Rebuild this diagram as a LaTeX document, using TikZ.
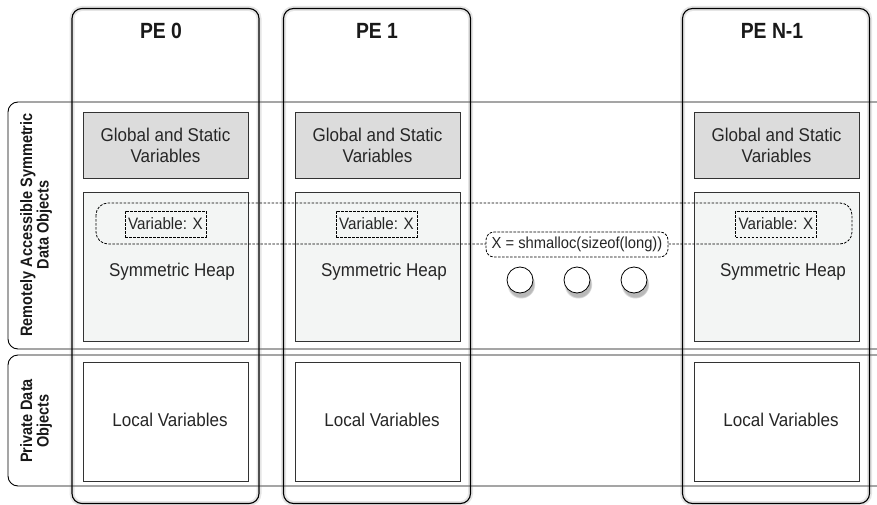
\documentclass[tikz,border=0pt]{standalone}
\usepackage{fontspec}
\setmainfont{Liberation Sans}[FakeStretch=0.92]
\newfontfamily\titlefont{Liberation Sans}[FakeStretch=0.88]
\usetikzlibrary{shadows}
\definecolor{txt}{HTML}{262626}
\definecolor{globfill}{HTML}{DCDCDC}
\definecolor{heapfill}{HTML}{F3F5F4}
\definecolor{boxline}{HTML}{333333}
\tikzset{
  pecol/.style={draw=black, line width=1.1pt, rounded corners=10pt, minimum width=187pt, minimum height=495pt, inner sep=0pt},
  peshadow/.style={draw=gray, line width=5pt, opacity=0.2, rounded corners=10pt, minimum width=187pt, minimum height=495pt, inner sep=0pt},
  petitle/.style={font=\titlefont\bfseries\fontsize{22}{24}\selectfont, text=black!90},
  band/.style={draw=black, line width=0.9pt, rounded corners=10pt, inner sep=0pt},
  bandlabel/.style={rotate=90, align=center, font=\titlefont\bfseries\fontsize{16.5}{16.5}\selectfont, text=black!90},
  globbox/.style={draw=boxline, line width=0.8pt, fill=globfill, minimum width=165pt, minimum height=66pt, inner sep=0pt, align=center, font=\fontsize{18.5}{21}\selectfont, text=txt},
  heapbox/.style={draw=boxline, line width=0.8pt, fill=heapfill, minimum width=165pt, minimum height=149pt, inner sep=0pt},
  localbox/.style={draw=boxline, line width=0.8pt, fill=white, minimum width=165pt, minimum height=119pt, inner sep=0pt},
  bodytext/.style={font=\fontsize{18.5}{21}\selectfont, text=txt, inner sep=0pt},
  dashline/.style={draw=black, dash pattern=on 2.6pt off 1.4pt, line width=0.8pt},
  varbox/.style={dashline, minimum width=81pt, minimum height=26pt, inner sep=0pt, font=\fontsize{16.5}{18}\selectfont, text=txt},
  allocbox/.style={dashline, fill=white, rounded corners=8pt, minimum width=182pt, minimum height=25pt, inner sep=0pt, font=\fontsize{16}{18}\selectfont, text=txt},
  dot/.style={circle, draw=black, line width=0.8pt, fill=white, minimum size=26pt, inner sep=0pt, circular drop shadow={shadow xshift=1pt, shadow yshift=-4pt, opacity=0.55}},
}
\begin{document}
\begin{tikzpicture}[x=1pt,y=-1pt]
\useasboundingbox[fill=white] (0,0) rectangle (877,505);

% bands
\node[band, minimum width=900pt, minimum height=247pt] (remote) at (458,225.5) {};
\node[band, minimum width=900pt, minimum height=131pt] (private) at (458,420.5) {};
\node[bandlabel] (remlabel) at (36,225) {Remotely Accessible Symmetric\\Data Objects};
\node[bandlabel] (privlabel) at (36,421) {Private Data\\Objects};

% PE columns (shadow + outline)
\foreach \cx/\nm in {165.5/pe0, 377/pe1, 776/pen}{
  \node[peshadow] at (\cx,256) {};
  \node[pecol] (\nm) at (\cx,256) {};
}
\node[petitle] (t0) at (161,31) {PE 0};
\node[petitle] (t1) at (377,31) {PE 1};
\node[petitle] (tn) at (772,31) {PE N-1};

% inner boxes
\foreach \cx/\nm in {165.5/0, 377.5/1, 776.5/n}{
  \node[globbox] (glob\nm) at (\cx,145) {Global and Static\\Variables};
  \node[heapbox] (heap\nm) at (\cx,266.5) {};
  \node[localbox] (loc\nm) at (\cx,421.5) {};
  \node[bodytext] (sh\nm) at ([xshift=6.5pt,yshift=-5.5pt]heap\nm.center) {Symmetric Heap};
  \node[bodytext] (lv\nm) at ([xshift=4.5pt,yshift=1.5pt]loc\nm.center) {Local Variables};
}

% dashed region across heaps
\draw[dashline, rounded corners=12pt] (96,203) rectangle (852,244);

\node[varbox] (v0) at (165.5,224) {Variable: X};
\node[varbox] (v1) at (376.5,224) {Variable: X};
\node[varbox] (vn) at (776,224) {Variable: X};

\node[allocbox] (alloc) at (577,244.5) {X = shmalloc(sizeof(long))};

\node[dot] (c1) at (520,280) {};
\node[dot] (c2) at (577,280) {};
\node[dot] (c3) at (634,280) {};
\end{tikzpicture}
\end{document}
